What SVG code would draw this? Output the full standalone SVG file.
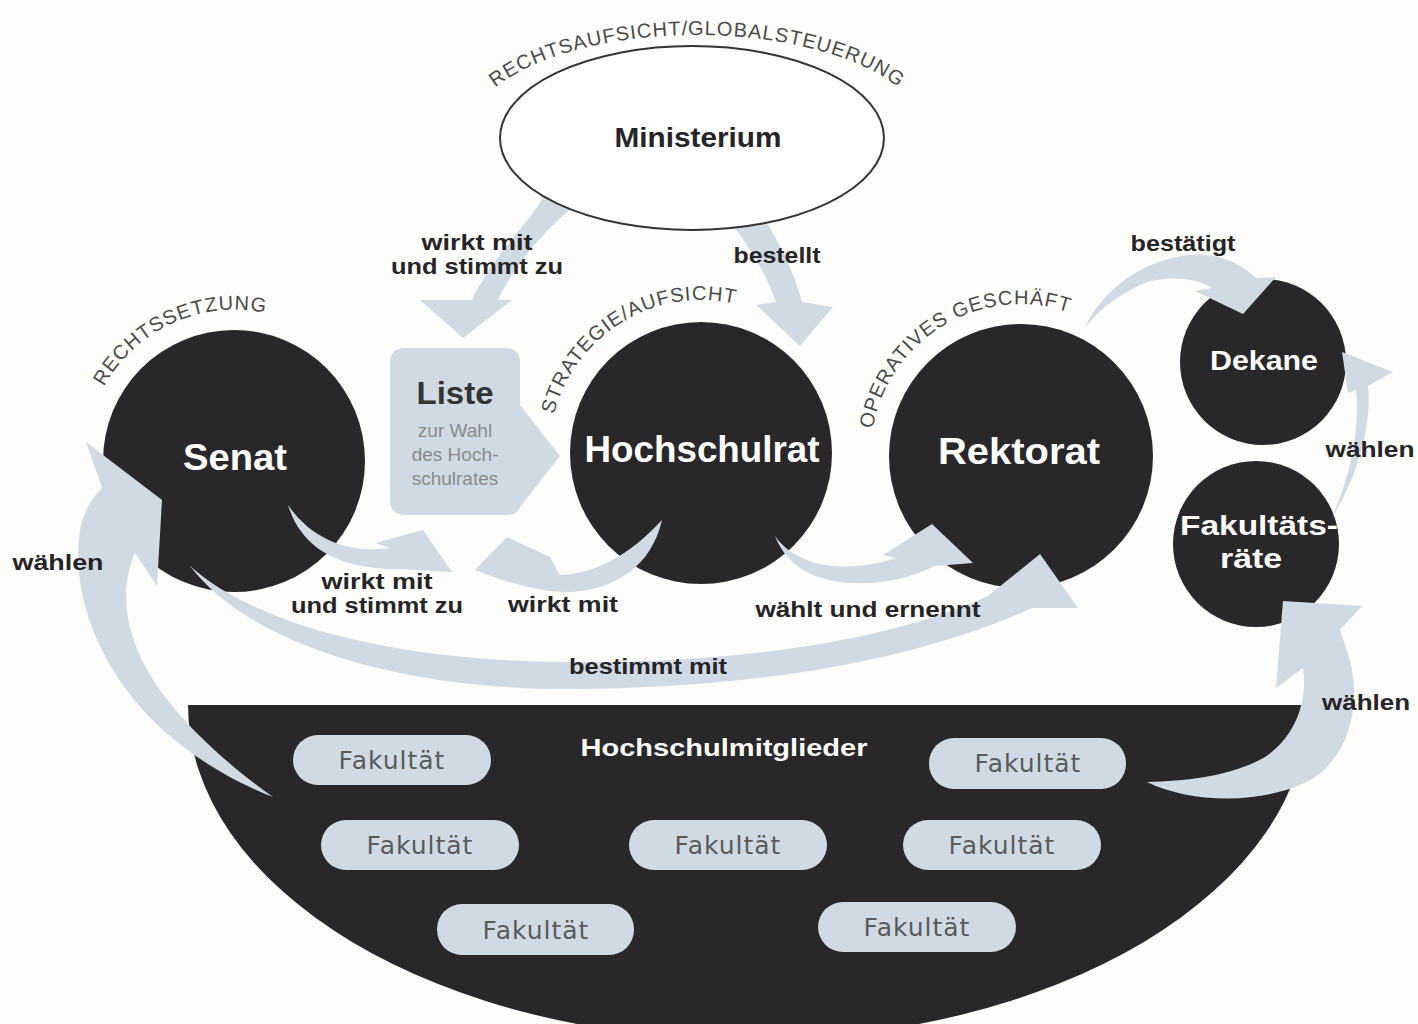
<svg xmlns="http://www.w3.org/2000/svg" width="1418" height="1024" viewBox="0 0 1418 1024">
<defs>
<style>
.bg{fill:#fdfdfb}
.dark{fill:#29272a}
.arr{fill:#d0dae4}
.pill{fill:#d0dae4}
.lbl{font-family:"Liberation Sans",Arial,sans-serif;font-weight:bold;font-size:22px;fill:#262426;text-anchor:middle}
.node{font-family:"Liberation Sans",Arial,sans-serif;font-weight:bold;fill:#ffffff;text-anchor:middle}
.arc{font-family:"Liberation Sans",Arial,sans-serif;font-size:20px;fill:#4a4a4a;letter-spacing:1px}
.fak{font-family:"DejaVu Sans",sans-serif;font-size:25px;fill:#5a5a5a;text-anchor:middle;letter-spacing:1px}
</style>
<path id="arcMin" d="M468,135 A229,100 0 0 1 926,135"/>
<path id="arcSenat" d="M90,421 A150,150 0 0 1 301,325"/>
<path id="arcHR" d="M551,429 A152,152 0 0 1 750,308"/>
<path id="arcRek" d="M872,434 A150,150 0 0 1 1074,314"/>
</defs>
<rect class="bg" x="0" y="0" width="1418" height="1024"/>

<g id="hochschulmitglieder">
<path class="dark" d="M188,705 L1308,705 A560,335 0 0 1 188,705 Z"/>
<text class="node" x="724" y="756" font-size="24" textLength="287" lengthAdjust="spacingAndGlyphs">Hochschulmitglieder</text>
<g id="fakultaet1"><rect class="pill" x="293" y="735" width="198" height="50" rx="25"/><text class="fak" x="392" y="769">Fakultät</text></g>
<g id="fakultaet2"><rect class="pill" x="929" y="738" width="197" height="51" rx="25"/><text class="fak" x="1028" y="772">Fakultät</text></g>
<g id="fakultaet3"><rect class="pill" x="321" y="820" width="198" height="50" rx="25"/><text class="fak" x="420" y="854">Fakultät</text></g>
<g id="fakultaet4"><rect class="pill" x="629" y="820" width="198" height="50" rx="25"/><text class="fak" x="728" y="854">Fakultät</text></g>
<g id="fakultaet5"><rect class="pill" x="903" y="820" width="198" height="50" rx="25"/><text class="fak" x="1002" y="854">Fakultät</text></g>
<g id="fakultaet6"><rect class="pill" x="437" y="904" width="197" height="51" rx="25"/><text class="fak" x="536" y="939">Fakultät</text></g>
<g id="fakultaet7"><rect class="pill" x="818" y="902" width="198" height="50" rx="25"/><text class="fak" x="917" y="936">Fakultät</text></g>
</g>

<g id="senat"><circle class="dark" cx="234" cy="461" r="131"/></g>
<g id="hochschulrat"><circle class="dark" cx="701" cy="453" r="131"/></g>
<g id="rektorat"><circle class="dark" cx="1021" cy="456" r="132"/></g>
<g id="dekane"><circle class="dark" cx="1263" cy="362" r="83"/></g>
<g id="fakultaetsraete"><circle class="dark" cx="1256" cy="544" r="83"/></g>

<g id="liste">
<path class="arr" d="M405,348 L505,348 Q520,348 520,363 L520,405 L560,456 L520,507 Q518,515 505,515 L405,515 Q390,515 390,500 L390,363 Q390,348 405,348 Z"/>
<text x="455" y="404" font-family="Liberation Sans, Arial, sans-serif" font-weight="bold" font-size="32" fill="#333" text-anchor="middle" textLength="77" lengthAdjust="spacingAndGlyphs">Liste</text>
<text x="455" y="437" font-family="Liberation Sans Narrow, Liberation Sans, sans-serif" font-size="19" fill="#8a8a8a" text-anchor="middle">zur Wahl</text>
<text x="455" y="461" font-family="Liberation Sans Narrow, Liberation Sans, sans-serif" font-size="19" fill="#8a8a8a" text-anchor="middle">des Hoch-</text>
<text x="455" y="485" font-family="Liberation Sans Narrow, Liberation Sans, sans-serif" font-size="19" fill="#8a8a8a" text-anchor="middle">schulrates</text>
</g>

<g id="connectors">
<!-- Ministerium -> Liste -->
<path class="arr" d="M545,195 C530,220 505,245 488,272 C480,285 475,292 472,300 L420,300 L463,338 L512,300 L498,300 C505,285 515,268 530,250 C545,232 560,218 580,200 Z"/>
<!-- Ministerium -> Hochschulrat -->
<path class="arr" d="M725,215 C745,240 765,270 776,302 L756,305 L800,346 L833,307 L802,302 C792,265 775,235 760,212 Z"/>
<!-- Senat -> Liste -->
<path class="arr" d="M288,505 C300,545 335,570 400,569 L452,572 L423,530 L375,543 L390,548 C350,554 312,540 288,505 Z"/>
<!-- Hochschulrat -> Liste -->
<path class="arr" d="M662,520 C652,565 615,592 565,592 C540,592 505,582 475,570 L507,537 L550,557 L560,575 C595,574 630,555 662,520 Z"/>
<!-- Hochschulrat -> Rektorat -->
<path class="arr" d="M775,536 C790,575 830,585 870,583 C900,581 918,574 935,566 L973,563 L932,524 L883,555 L896,558 C870,567 840,569 815,563 C797,557 784,549 775,536 Z"/>
<!-- Senat -> Rektorat (bestimmt mit) -->
<path class="arr" d="M190,566 C260,628 400,660 560,662 C720,664 880,645 988,596 L1040,554 L1078,608 L1032,608 C900,668 720,690 560,689 C400,688 250,645 190,566 Z"/>
<!-- Rektorat -> Dekane (bestaetigt) -->
<path class="arr" d="M1085,328 C1098,297 1135,262 1187,255 C1215,252 1240,262 1256,278 L1276,277 L1243,314 L1195,291 L1212,288 C1192,276 1160,276 1140,285 C1115,297 1095,313 1085,328 Z"/>
<!-- Fakultaetsraete -> Dekane (waehlen) -->
<path class="arr" d="M1332,518 C1358,475 1372,425 1368,386 L1393,372 L1342,352 L1348,393 L1356,390 C1360,432 1350,475 1332,518 Z"/>
<!-- Hochschulmitglieder -> Fakultaetsraete (waehlen) -->
<path class="arr" d="M1147,782 C1200,808 1285,802 1322,772 C1352,745 1360,700 1350,660 L1340,630 L1362,606 L1283,601 L1276,688 L1303,668 C1308,702 1295,737 1265,757 C1232,776 1188,781 1147,782 Z"/>
<!-- Hochschulmitglieder -> Senat (waehlen) -->
<path class="arr" d="M86,442 L162,500 L157,586 L135,553 C118,592 125,640 160,690 C190,732 235,770 273,797 C218,776 160,737 125,688 C92,642 72,586 80,530 C84,510 92,498 102,488 Z"/>
</g>

<g id="ministerium">
<ellipse cx="692" cy="138" rx="192" ry="92" fill="#ffffff" stroke="#333" stroke-width="2"/>
<text x="698" y="147" font-family="Liberation Sans, Arial, sans-serif" font-weight="bold" font-size="28" fill="#262426" text-anchor="middle" textLength="167" lengthAdjust="spacingAndGlyphs">Ministerium</text>
</g>

<g id="node-labels">
<text class="node" x="235" y="470" font-size="36" textLength="104" lengthAdjust="spacingAndGlyphs">Senat</text>
<text class="node" x="702" y="462" font-size="36" textLength="235" lengthAdjust="spacingAndGlyphs">Hochschulrat</text>
<text class="node" x="1019" y="464" font-size="36" textLength="162" lengthAdjust="spacingAndGlyphs">Rektorat</text>
<text class="node" x="1264" y="370" font-size="28" textLength="108" lengthAdjust="spacingAndGlyphs">Dekane</text>
<text class="node" x="1259" y="535" font-size="28" textLength="158" lengthAdjust="spacingAndGlyphs">Fakultäts-</text>
<text class="node" x="1251" y="568" font-size="28" textLength="62" lengthAdjust="spacingAndGlyphs">räte</text>
</g>

<g id="arc-labels">
<text class="arc"><textPath href="#arcMin" startOffset="50%" text-anchor="middle">RECHTSAUFSICHT/GLOBALSTEUERUNG</textPath></text>
<text class="arc"><textPath href="#arcSenat" startOffset="50%" text-anchor="middle">RECHTSSETZUNG</textPath></text>
<text class="arc"><textPath href="#arcHR" startOffset="50%" text-anchor="middle">STRATEGIE/AUFSICHT</textPath></text>
<text class="arc"><textPath href="#arcRek" startOffset="50%" text-anchor="middle">OPERATIVES GESCHÄFT</textPath></text>
</g>

<g id="connector-labels">
<text class="lbl" x="477" y="250" textLength="111" lengthAdjust="spacingAndGlyphs">wirkt mit</text>
<text class="lbl" x="477" y="274" textLength="172" lengthAdjust="spacingAndGlyphs">und stimmt zu</text>
<text class="lbl" x="777" y="263" textLength="87" lengthAdjust="spacingAndGlyphs">bestellt</text>
<text class="lbl" x="377" y="589" textLength="111" lengthAdjust="spacingAndGlyphs">wirkt mit</text>
<text class="lbl" x="377" y="613" textLength="172" lengthAdjust="spacingAndGlyphs">und stimmt zu</text>
<text class="lbl" x="563" y="612" textLength="110" lengthAdjust="spacingAndGlyphs">wirkt mit</text>
<text class="lbl" x="868" y="617" textLength="225" lengthAdjust="spacingAndGlyphs">wählt und ernennt</text>
<text class="lbl" x="648" y="674" textLength="158" lengthAdjust="spacingAndGlyphs">bestimmt mit</text>
<text class="lbl" x="1183" y="251" textLength="105" lengthAdjust="spacingAndGlyphs">bestätigt</text>
<text class="lbl" x="1370" y="457" textLength="89" lengthAdjust="spacingAndGlyphs">wählen</text>
<text class="lbl" x="1366" y="710" textLength="88" lengthAdjust="spacingAndGlyphs">wählen</text>
<text class="lbl" x="58" y="570" textLength="91" lengthAdjust="spacingAndGlyphs">wählen</text>
</g>
</svg>
